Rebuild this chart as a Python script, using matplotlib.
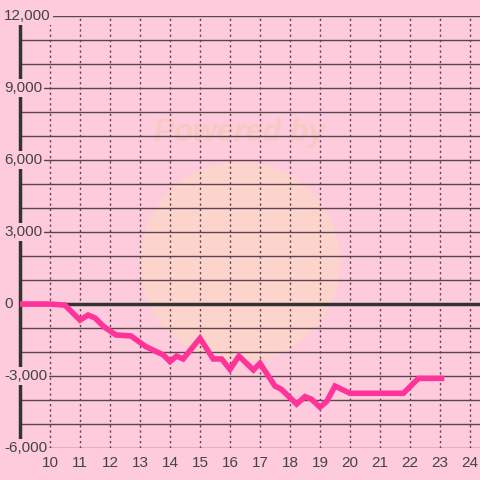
import matplotlib
matplotlib.use("Agg")
import matplotlib.pyplot as plt
import matplotlib.transforms as mtransforms
from matplotlib.patches import Circle

# data
hours = [9.0, 10.0, 10.5, 11.0, 11.27, 11.5, 11.8, 12.2, 12.7, 13.2, 13.78, 14.0, 14.22, 14.44,
         15.0, 15.44, 15.72, 16.0, 16.3, 16.78, 17.0, 17.5, 17.72, 18.22, 18.5, 18.72,
         19.0, 19.22, 19.5, 20.0, 21.78, 22.28, 23.05]
values = [0, 0, -50, -670, -460, -580, -950, -1290, -1330, -1780, -2125, -2400, -2170, -2290,
          -1430, -2290, -2290, -2720, -2170, -2750, -2470, -3420, -3560, -4170, -3860, -3970,
          -4300, -4070, -3420, -3720, -3720, -3100, -3100]
x_ticks = list(range(10, 25))
y_label_ticks = [-6000, -3000, 0, 3000, 6000, 9000, 12000]
y_grid = list(range(-6000, 12001, 1000))

bg = "#FDCBDB"
grid_c = "#5E4250"
dark = "#333333"
line_c = "#FF3399"
txt_c = "#444444"

plt.rcParams['font.family'] = ['Liberation Sans', 'DejaVu Sans']

fig = plt.figure(figsize=(4.8, 4.8), dpi=100, facecolor=bg)
ax = fig.add_axes([20/480, 32/480, 460/480, 432/480])
ax.set_facecolor(bg)
ax.set_xlim(9, 9 + 460/30)
ax.set_ylim(-6000, 12000)

for s in ['top', 'right', 'bottom']:
    ax.spines[s].set_visible(False)
ax.spines['left'].set_color(dark)
ax.spines['left'].set_linewidth(2.5)
ax.spines['left'].set_zorder(1)

# watermark (behind grid)
circ = Circle((240/480, 1 - 262/480), 100/480, transform=fig.transFigure,
              facecolor="#FDD6C9", edgecolor="none", alpha=0.85, zorder=0.2)
ax.add_patch(circ)
ax.text(240/480, 1 - 133/480, "Powered by", transform=fig.transFigure,
        ha='center', va='center', fontsize=22, fontweight='bold', style='italic',
        color="#F8C9C3", zorder=0.3)

# grid
for v in y_grid:
    ax.axhline(v, color=grid_c, lw=1.0, zorder=1)
for h in x_ticks:
    ax.axvline(h, color=grid_c, lw=1.0, ls=(0, (1.6, 2.2)), zorder=1)
ax.axhline(0, color=dark, lw=2.5, zorder=2)

ax.plot(hours, values, color=line_c, lw=4, solid_joinstyle='miter', zorder=3)

ax.set_xticks(x_ticks)
ax.set_xticklabels([str(t) for t in x_ticks])
ax.tick_params(axis='x', length=0, pad=6, labelsize=11, labelcolor=txt_c)
ax.set_yticks([])

ytrans = mtransforms.blended_transform_factory(fig.transFigure, ax.transData)
for v in y_label_ticks:
    ax.text(4/480, v, f"{v:,}", transform=ytrans,
            ha='left', va='center', fontsize=11, color=txt_c, zorder=5,
            bbox=dict(boxstyle='square,pad=0.15', fc=bg, ec='none'))

fig.savefig("out.png", dpi=100, facecolor=bg)
